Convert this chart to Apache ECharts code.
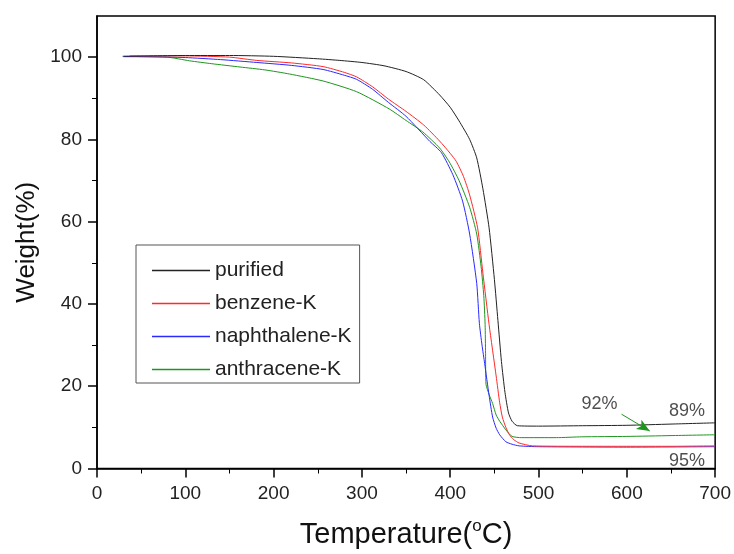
<!DOCTYPE html>
<html><head><meta charset="utf-8">
<script src="https://cdn.jsdelivr.net/npm/echarts@6/dist/echarts.min.js"></script>
<style>html,body{margin:0;padding:0;background:#fff}#c{width:734px;height:554px}</style>
</head><body><div id="c"></div>
<script>
const seriesNames = ['purified', 'benzene-K', 'naphthalene-K', 'anthracene-K'];
const purified = [[30,100.2],[60,100.3],[100,100.4],[150,100.4],[200,100.2],[250,99.6],[275,99.2],[300,98.7],[325,97.9],[350,96.5],[370,94.5],[388,90.8],[400,87.8],[410,84.5],[422,80],[430,75.5],[437,68],[444,58.5],[450,46],[454,36],[458,26],[462,18.5],[466,13.5],[470,11.5],[476,10.4],[500,10.3],[550,10.4],[600,10.5],[650,10.8],[700,11.1]];
const benzeneK = [[37,100.3],[100,100.3],[150,100],[181,99.2],[220,98.6],[256,97.7],[280,96.3],[294,95.2],[312,92.8],[330,89.8],[350,86.8],[370,83.5],[388,79.6],[400,76.6],[407,74.6],[415,71],[422,66.5],[431,58.5],[437,47.5],[444,35],[452,22.5],[456,16],[459,12.5],[463,10],[467,8.2],[472,7],[478,6.2],[493,5.5],[550,5.4],[600,5.4],[650,5.4],[700,5.5]];
const naphthaleneK = [[29,100.2],[60,100.1],[100,99.9],[140,99.4],[181,98.7],[220,98],[256,97],[280,95.6],[294,94.6],[312,92.2],[330,89],[350,85.6],[377,79.5],[390,76.8],[403,71.4],[414,65],[422,57],[430,45],[433,35.3],[436,30],[439,25.5],[444,17.8],[448,12.5],[452,9.8],[456,8.2],[463,6.5],[470,5.9],[478,5.5],[500,5.3],[600,5.2],[700,5.3]];
const anthraceneK = [[30,100.1],[79,100],[105,99.1],[130,98.4],[162,97.6],[190,96.9],[218,95.9],[256,94.2],[294,91.6],[331,87.4],[350,84.6],[369,81.8],[388,77.9],[399,74.5],[410,70],[422,63.5],[430,57],[435,49],[438,42],[439.5,35],[440,28],[440.5,20.5],[444,18],[448,15.8],[452,13],[456,11.5],[463,9.4],[470,7.8],[481,7.5],[520,7.5],[549,7.7],[600,7.8],[650,8.0],[700,8.2]];
const xTicks = [0,100,200,300,400,500,600,700];
const yMajorTicks = [0,20,40,60,80,100];
const yMinorTicks = [10,30,50,70,90];
const annotations = [{text:'92%', at:[569,15.6]},{text:'89%', at:[668,13.9]},{text:'95%', at:[668,1.9]}];
const arrowFrom = [594,13.2], arrowTo = [626,9.1];

const FONT = 'Arial, "Liberation Sans", sans-serif';
const colors = ['#222222','#ff2a2a','#2a2aff','#1e961e'];
const datasets = [purified, benzeneK, naphthaleneK, anthraceneK];

const series = datasets.map((d,i)=>({
  name: seriesNames[i], type:'line', data:d, symbol:'none', smooth:0.2,
  lineStyle:{color:colors[i], width:1}, itemStyle:{color:colors[i]}, z: 4-i
}));
series.push({
  name:'annot', type:'scatter', symbolSize:0, silent:true,
  data: annotations.map(a=>({value:a.at, label:{show:true, formatter:a.text}})),
  label:{show:true, position:'inside', fontSize:18, color:'#222', fontFamily:FONT},
  markLine:{silent:true, symbol:['none','arrow'], symbolSize:[8,13],
    lineStyle:{color:'#1e961e', width:1, type:'solid'}, label:{show:false},
    data:[[{coord:arrowFrom},{coord:arrowTo}]]}
});

const chart = echarts.init(document.getElementById('c'));
chart.setOption({
  animation:false,
  backgroundColor:'#fff',
  grid:{left:97, right:18, top:16, bottom:80, show:true, borderColor:'#000', borderWidth:1.5, containLabel:false},
  legend:{data:seriesNames, orient:'vertical', left:136, top:245, icon:'rect', itemWidth:58, itemHeight:1.6, itemGap:12,
    padding:[15,8,3,16], borderColor:'#555', borderWidth:1, backgroundColor:'#fff',
    textStyle:{fontSize:21, color:'#222', fontFamily:FONT}},
  xAxis:{type:'value', min:0, max:700, interval:100,
    name:'Temperature({s|o}C)', nameLocation:'middle', nameGap:49,
    nameTextStyle:{fontSize:29, color:'#111', fontFamily:FONT, rich:{s:{fontSize:17, fontFamily:FONT, color:'#111', padding:[0,0,17,0]}}},
    axisLine:{lineStyle:{color:'#000', width:1.5}},
    axisTick:{length:9, lineStyle:{color:'#000', width:1.5}, customValues:xTicks},
    axisLabel:{fontSize:19, color:'#222', fontFamily:FONT, margin:16, customValues:xTicks},
    minorTick:{show:true, splitNumber:2, length:5, lineStyle:{color:'#000', width:1}},
    splitLine:{show:false}},
  yAxis:[{type:'value', min:0, max:110, interval:20,
    name:'Weight(%)', nameLocation:'middle', nameGap:56,
    nameTextStyle:{fontSize:26, color:'#111', fontFamily:FONT},
    axisLine:{show:true, lineStyle:{color:'#000', width:1.5}},
    axisTick:{show:true, length:9, lineStyle:{color:'#000', width:1.5}, customValues:yMajorTicks},
    axisLabel:{fontSize:19, color:'#222', fontFamily:FONT, margin:15, customValues:yMajorTicks},
    splitLine:{show:false}},
   {type:'value', min:0, max:110, position:'left',
    axisLine:{show:false}, axisLabel:{show:false}, splitLine:{show:false},
    axisTick:{show:true, length:5, lineStyle:{color:'#000', width:1}, customValues:yMinorTicks}}],
  series: series
});
</script></body></html>
